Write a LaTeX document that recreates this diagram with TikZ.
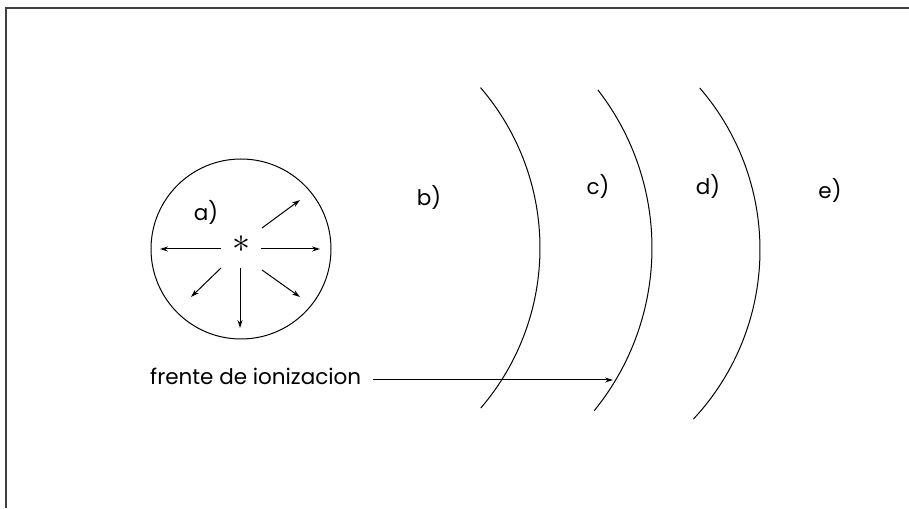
\documentclass[tikz,border=0pt]{standalone}
\usepackage{fontspec}
\setmainfont{Poppins}
\usetikzlibrary{arrows.meta}
\begin{document}
\begin{tikzpicture}[x=1pt,y=1pt,
  lbl/.style={font=\fontsize{21.5}{25}\selectfont, inner sep=0pt},
  ray/.style={line width=1pt, -{Stealth[length=8pt,width=5pt]}},
  front/.style={line width=1pt},
  frame/.style={line width=1.6pt, draw=black!75}]
\useasboundingbox (0,0) rectangle (909,508);
\draw[frame] (6,0) -- (6,500) -- (909,500);
% source
\node[circle, draw, line width=1pt, minimum size=180pt, inner sep=0pt] (circ) at (241,259) {};
\node[inner sep=0pt, scale=3.6] (star) at (241,264) {$\ast$};
\coordinate (s1) at (221,259); \coordinate (t1) at (160,259);
\coordinate (s2) at (261,259); \coordinate (t2) at (320,259);
\coordinate (s3) at (240,240); \coordinate (t3) at (240,180);
\coordinate (s4) at (262,280); \coordinate (t4) at (300,308);
\coordinate (s5) at (221,240); \coordinate (t5) at (191,211);
\coordinate (s6) at (262,238); \coordinate (t6) at (300,211);
\foreach \i in {1,...,6} \draw[ray] (s\i) -- (t\i);
\node[lbl] (la) at (206,296) {a)};
% fronts
\draw[front] ([shift={(40.7:246)}]294,260) arc[start angle=40.7, end angle=-40.6, radius=246];
\draw[front] ([shift={(37.8:258)}]394,260) arc[start angle=37.8, end angle=-39.1, radius=258];
\draw[front] ([shift={(40.8:248)}]512,258) arc[start angle=40.8, end angle=-43, radius=248];
\coordinate (hit) at (613,128);
\node[lbl] (lb) at (429,311) {b)};
\node[lbl] (lc) at (598,322) {c)};
\node[lbl] (ld) at (708,322) {d)};
\node[lbl] (le) at (830,318) {e)};
\node[lbl, anchor=base west] (lf) at (150,123) {frente de ionizacion};
\draw[ray] ([xshift=12pt]lf.east |- hit) -- (hit);
\end{tikzpicture}
\end{document}
